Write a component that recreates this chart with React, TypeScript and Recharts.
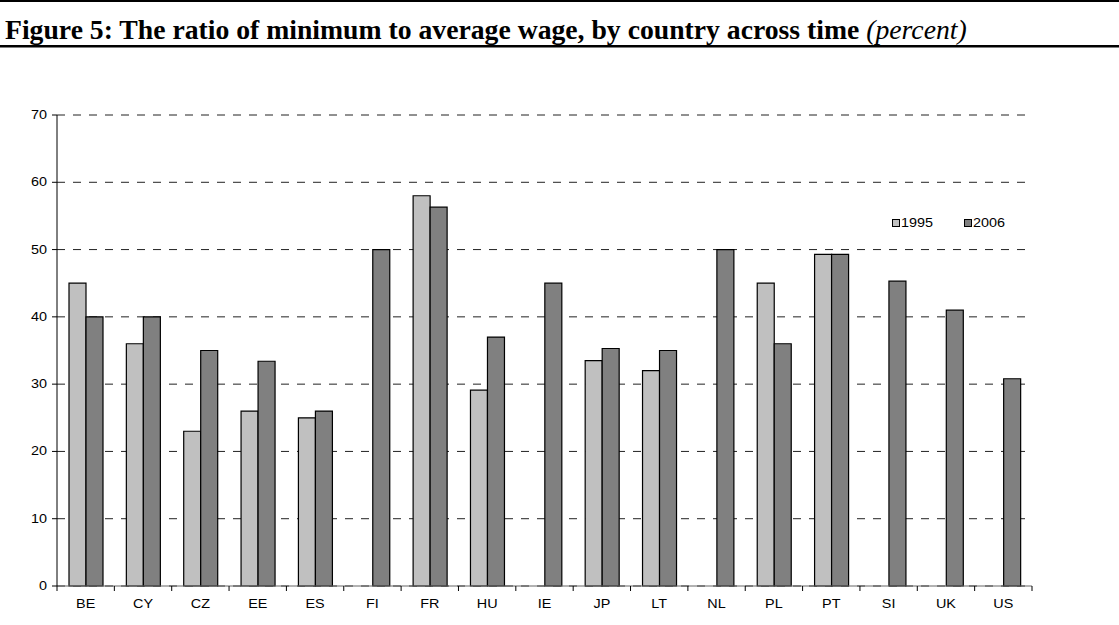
import { BarChart, Bar, XAxis, YAxis, CartesianGrid } from "recharts";

const countries = ["BE", "CY", "CZ", "EE", "ES", "FI", "FR", "HU", "IE", "JP", "LT", "NL", "PL", "PT", "SI", "UK", "US"];
const wage1995 = [45, 36, 23, 26, 25, null, 58, 29.1, null, 33.5, 32, null, 45, 49.3, null, null, null];
const wage2006 = [40, 40, 35, 33.4, 26, 50, 56.3, 37, 45, 35.3, 35, 50, 36, 49.3, 45.3, 41, 30.8];
const yTicks = [0, 10, 20, 30, 40, 50, 60, 70];
const seriesNames = ["1995", "2006"];
const seriesColors = ["#c0c0c0", "#808080"];

const data = countries.map((c, i) => ({ country: c, y1995: wage1995[i], y2006: wage2006[i] }));

const W = 1119;
const H = 625;
const PLOT_LEFT = 57;
const PLOT_RIGHT = 1032;
const PLOT_TOP = 115;
const PLOT_BOTTOM = 586;
const BAND = (PLOT_RIGHT - PLOT_LEFT) / countries.length;
const FONT = "'Liberation Sans', Arial, sans-serif";
const STRETCH = 1.2; // the source chart's text is a bit wide

const YTick = ({ x, y, payload }: any) => (
  <text
    transform={`translate(${x},${y + 4}) scale(${STRETCH},1)`}
    textAnchor="end"
    fontSize={12}
    fontFamily={FONT}
    fill="#000"
  >
    {payload.value}
  </text>
);

const XTick = ({ x, y, payload, index }: any) => {
  const half = BAND / 2;
  const last = index === countries.length - 1;
  return (
    <g>
      <line x1={x - half} x2={x - half} y1={y} y2={y + 5} stroke="#000" />
      {last && <line x1={x + half} x2={x + half} y1={y} y2={y + 5} stroke="#000" />}
      <text
        transform={`translate(${x},${y + 22}) scale(${STRETCH},1)`}
        textAnchor="middle"
        fontSize={12}
        fontFamily={FONT}
        fill="#000"
      >
        {payload.value}
      </text>
    </g>
  );
};

// legend drawn on top of the plot, like the original
const legendX = [892, 964];
const ChartLegend = () => (
  <svg width={W} height={H} style={{ position: "absolute", left: 0, top: 0, pointerEvents: "none" }}>
    {seriesNames.map((n, i) => (
      <g key={n}>
        <rect x={legendX[i] + 0.5} y={219.5} width={7} height={7} fill={seriesColors[i]} stroke="#000" />
        <text
          transform={`translate(${legendX[i] + 9},${227}) scale(${STRETCH},1)`}
          fontSize={12}
          fontFamily={FONT}
          fill="#000"
        >
          {n}
        </text>
      </g>
    ))}
  </svg>
);

export default function App() {
  return (
    <div style={{ position: "absolute", left: 0, top: 0, width: W, height: H, background: "#fff" }}>
      <svg width={W} height={60} style={{ position: "absolute", left: 0, top: 0 }}>
        <rect x={0} y={0} width={W} height={2} fill="#000" />
        <text x={5} y={39} fontFamily="'Liberation Serif', 'Times New Roman', serif" fontSize={27.7} fontWeight="bold" fill="#000">
          Figure 5: The ratio of minimum to average wage, by country across time{" "}
          <tspan fontStyle="italic" fontWeight="normal">(percent)</tspan>
        </text>
        <rect x={0} y={45} width={W} height={2.5} fill="#000" />
      </svg>
      <div style={{ position: "absolute", left: 0, top: 0 }}>
        <BarChart
          width={W}
          height={H}
          data={data}
          margin={{ top: PLOT_TOP, right: W - PLOT_RIGHT, bottom: H - PLOT_BOTTOM - 30, left: PLOT_LEFT - 50 }}
          barCategoryGap={12}
          barGap={0}
        >
          <CartesianGrid vertical={false} stroke="#222" strokeDasharray="8 8" />
          <XAxis
            dataKey="country"
            height={30}
            interval={0}
            tickLine={false}
            tickSize={0}
            tickMargin={0}
            axisLine={{ stroke: "#666" }}
            tick={<XTick />}
          />
          <YAxis
            width={50}
            domain={[0, 70]}
            ticks={yTicks}
            interval={0}
            tickSize={5}
            tickMargin={5}
            axisLine={{ stroke: "#000" }}
            tickLine={{ stroke: "#000" }}
            tick={<YTick />}
          />
          <Bar dataKey="y1995" name={seriesNames[0]} fill={seriesColors[0]} stroke="#000" strokeWidth={1.2} isAnimationActive={false} />
          <Bar dataKey="y2006" name={seriesNames[1]} fill={seriesColors[1]} stroke="#000" strokeWidth={1.2} isAnimationActive={false} />
        </BarChart>
      </div>
      <ChartLegend />
    </div>
  );
}
